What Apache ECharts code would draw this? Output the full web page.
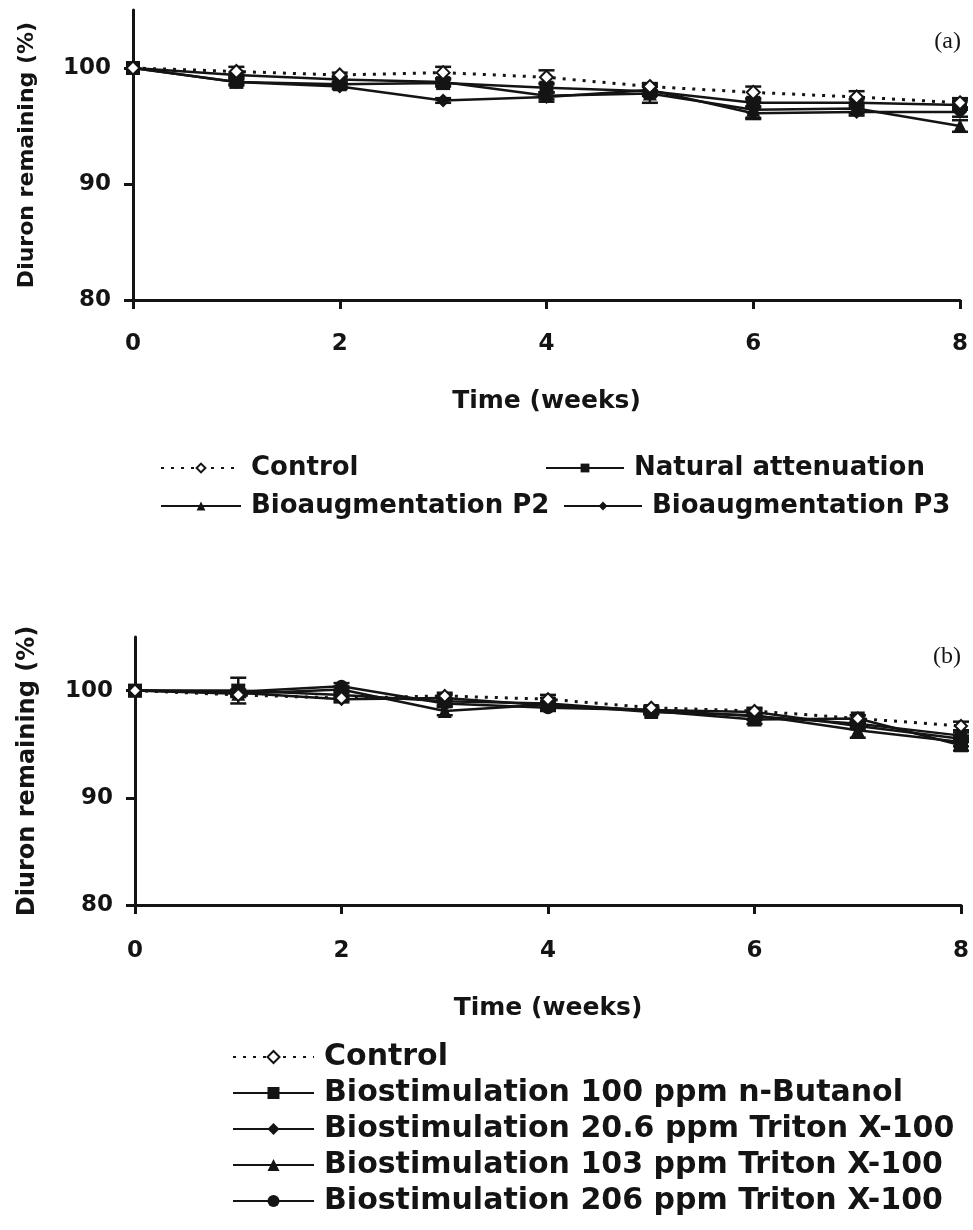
<!DOCTYPE html>
<html><head><meta charset="utf-8">
<script src="https://cdn.jsdelivr.net/npm/echarts@6/dist/echarts.min.js"></script>
<style>html,body{margin:0;padding:0;background:#fff}#c{width:973px;height:1230px}</style>
</head><body><div id="c"></div>
<script>
// ---- data ----
const weeks = [0, 1, 2, 3, 4, 5, 6, 7, 8];
const xTicks = [0, 2, 4, 6, 8];
const yTicks = [80, 90, 100];

// panel (a)
const namesA = ['Control', 'Natural attenuation', 'Bioaugmentation P2', 'Bioaugmentation P3'];
const controlA = [100, 99.7, 99.4, 99.6, 99.2, 98.4, 97.9, 97.5, 97.0];
const naturalA = [100, 98.8, 98.6, 98.7, 98.3, 98.0, 97.0, 97.0, 96.8];
const p2A      = [100, 99.4, 99.0, 98.8, 97.6, 97.8, 96.4, 96.5, 95.0];
const p3A      = [100, 98.8, 98.4, 97.2, 97.5, 98.1, 96.1, 96.2, 96.2];
const errControlA = [0, 0.4, 0.2, 0.5, 0.6, 0.3, 0.5, 0.5, 0.4];
const errNaturalA = [0, 0.3, 0.2, 0.3, 0.4, 0.4, 0.3, 0.3, 0.4];
const errP2A      = [0, 0.2, 0.3, 0.3, 0.3, 0.8, 0.7, 0.4, 0.5];
const errP3A      = [0, 0.2, 0.2, 0.2, 0.4, 0.3, 0.5, 0.3, 0.4];

// panel (b)
const namesB = ['Control', 'Biostimulation 100 ppm n-Butanol', 'Biostimulation 20.6 ppm Triton X-100',
                'Biostimulation 103 ppm Triton X-100', 'Biostimulation 206 ppm Triton X-100'];
const controlB = [100, 99.6, 99.3, 99.5, 99.2, 98.4, 98.1, 97.4, 96.7];
const butanolB = [100, 100.0, 99.6, 99.0, 98.8, 98.1, 97.3, 97.4, 94.9];
const t206B    = [100, 99.8, 99.2, 99.3, 98.6, 98.2, 98.0, 96.7, 95.5];
const t103B    = [100, 99.7, 100.1, 98.1, 98.7, 98.0, 97.7, 96.3, 95.2];
const t2060B   = [100, 99.9, 100.4, 98.8, 98.4, 98.2, 97.6, 96.9, 95.8];
const errControlB = [0, 0.2, 0.2, 0.3, 0.4, 0.2, 0.3, 0.3, 0.4];
const errButanolB = [0, 1.2, 0.3, 0.3, 0.5, 0.3, 0.4, 0.3, 0.5];
const errT206B    = [0, 0.2, 0.3, 0.3, 0.3, 0.2, 0.3, 0.3, 0.3];
const errT103B    = [0, 0.2, 0.3, 0.4, 0.3, 0.2, 0.4, 0.7, 0.4];
const errT2060B   = [0, 0.2, 0.3, 0.3, 0.3, 0.2, 0.3, 0.3, 0.3];

// ---- styling ----
const INK = '#141414';
const FONT = 'DejaVu Sans';
const pairs = (ys) => weeks.map((w, i) => [w, ys[i]]);
const triples = (ys, es) => weeks.map((w, i) => [w, ys[i], es[i]]);

function errRender(params, api) {
  const x = api.value(0), y = api.value(1), e = api.value(2);
  if (!e) return null;
  const hi = api.coord([x, y + e]), lo = api.coord([x, y - e]);
  const w = 8, st = { stroke: INK, lineWidth: 2.5 };
  return { type: 'group', children: [
    { type: 'line', shape: { x1: hi[0], y1: hi[1], x2: lo[0], y2: lo[1] }, style: st },
    { type: 'line', shape: { x1: hi[0] - w, y1: hi[1], x2: hi[0] + w, y2: hi[1] }, style: st },
    { type: 'line', shape: { x1: lo[0] - w, y1: lo[1], x2: lo[0] + w, y2: lo[1] }, style: st }
  ]};
}

function lineSeries(name, ys, idx, symbol, size, open) {
  return {
    type: 'line', name, data: pairs(ys), xAxisIndex: idx, yAxisIndex: idx,
    symbol, symbolSize: size, showAllSymbol: true,
    lineStyle: open ? { color: INK, width: 3, type: [3, 7] } : { color: INK, width: 2.5 },
    itemStyle: open ? { color: '#fff', borderColor: INK, borderWidth: 2 } : { color: INK, borderWidth: 0 },
    z: open ? 4 : 3, animation: false
  };
}
function errSeries(ys, es, idx) {
  return { type: 'custom', data: triples(ys, es), xAxisIndex: idx, yAxisIndex: idx,
           encode: { x: 0, y: 1 }, renderItem: errRender, z: 2, animation: false, silent: true };
}

function xAxis(idx, margin, gap, nameSize) {
  return {
    type: 'value', gridIndex: idx, min: 0, max: 8, interval: 2,
    name: 'Time (weeks)', nameLocation: 'middle', nameGap: gap,
    nameTextStyle: { fontFamily: FONT, fontWeight: 'bold', fontSize: nameSize, color: INK },
    axisLine: { onZero: false, lineStyle: { color: INK, width: 3 } },
    axisTick: { length: 9, lineStyle: { color: INK, width: 3 }, customValues: xTicks },
    axisLabel: { margin, fontFamily: FONT, fontWeight: 'bold', fontSize: 23, color: INK, customValues: xTicks },
    splitLine: { show: false }
  };
}
function yAxis(idx, gap, nameSize, labelSize) {
  return {
    type: 'value', gridIndex: idx, min: 80, max: 105, interval: 10,
    name: 'Diuron remaining (%)', nameLocation: 'middle', nameGap: gap, nameRotate: 90,
    nameTextStyle: { fontFamily: FONT, fontWeight: 'bold', fontSize: nameSize, color: INK },
    axisLine: { onZero: false, lineStyle: { color: INK, width: 3 } },
    axisTick: { length: 9, lineStyle: { color: INK, width: 3 }, customValues: yTicks },
    axisLabel: { margin: 22, fontFamily: FONT, fontWeight: 'bold', fontSize: labelSize, color: INK, customValues: yTicks },
    splitLine: { show: false }
  };
}

function legendItem(name, left, top, width, size, symH) {
  return {
    data: [name], left, top, padding: 0, orient: 'horizontal', itemWidth: width, itemHeight: symH,
    textStyle: { fontFamily: FONT, fontWeight: 'bold', fontSize: size, color: INK, padding: [0, 0, 0, 5] },
    selectedMode: false
  };
}

const option = {
  backgroundColor: '#fff',
  animation: false,
  grid: [
    { left: 133, right: 13, top: 10, height: 290 },
    { left: 135, right: 12, top: 637, height: 268 }
  ],
  xAxis: [xAxis(0, 33, 89, 25), xAxis(1, 35, 91, 25)],
  yAxis: [yAxis(0, 95, 22, 23), yAxis(1, 95, 24, 23)],
  legend: [
    legendItem(namesA[0], 160, 455, 80, 26, 11),
    legendItem(namesA[1], 545, 455, 78, 26, 11),
    legendItem(namesA[2], 160, 493, 80, 26, 11),
    legendItem(namesA[3], 563, 493, 78, 26, 11),
    {
      data: namesB, left: 232, top: 1042, padding: 0, orient: 'vertical', itemWidth: 81, itemHeight: 15, itemGap: 6,
      textStyle: { fontFamily: FONT, fontWeight: 'bold', fontSize: 30, lineHeight: 30, color: INK, padding: [0, 0, 0, 5] },
      selectedMode: false
    }
  ],
  graphic: [
    { type: 'text', right: 12, top: 30, style: { text: '(a)', font: '24px "Liberation Serif"', fill: INK } },
    { type: 'text', right: 12, top: 645, style: { text: '(b)', font: '24px "Liberation Serif"', fill: INK } }
  ],
  series: [
    errSeries(naturalA, errNaturalA, 0),
    errSeries(p2A, errP2A, 0),
    errSeries(p3A, errP3A, 0),
    errSeries(controlA, errControlA, 0),
    lineSeries(namesA[1], naturalA, 0, 'rect', 14, false),
    lineSeries(namesA[2], p2A, 0, 'triangle', 14, false),
    lineSeries(namesA[3], p3A, 0, 'diamond', 14, false),
    lineSeries(namesA[0], controlA, 0, 'diamond', 13, true),

    errSeries(butanolB, errButanolB, 1),
    errSeries(t206B, errT206B, 1),
    errSeries(t103B, errT103B, 1),
    errSeries(t2060B, errT2060B, 1),
    errSeries(controlB, errControlB, 1),
    lineSeries(namesB[1], butanolB, 1, 'rect', 14, false),
    lineSeries(namesB[2], t206B, 1, 'diamond', 14, false),
    lineSeries(namesB[3], t103B, 1, 'triangle', 14, false),
    lineSeries(namesB[4], t2060B, 1, 'circle', 13, false),
    lineSeries(namesB[0], controlB, 1, 'diamond', 12, true)
  ]
};
const chart = echarts.init(document.getElementById('c'), null, { renderer: 'canvas' });
chart.setOption(option);
</script>
</body></html>
